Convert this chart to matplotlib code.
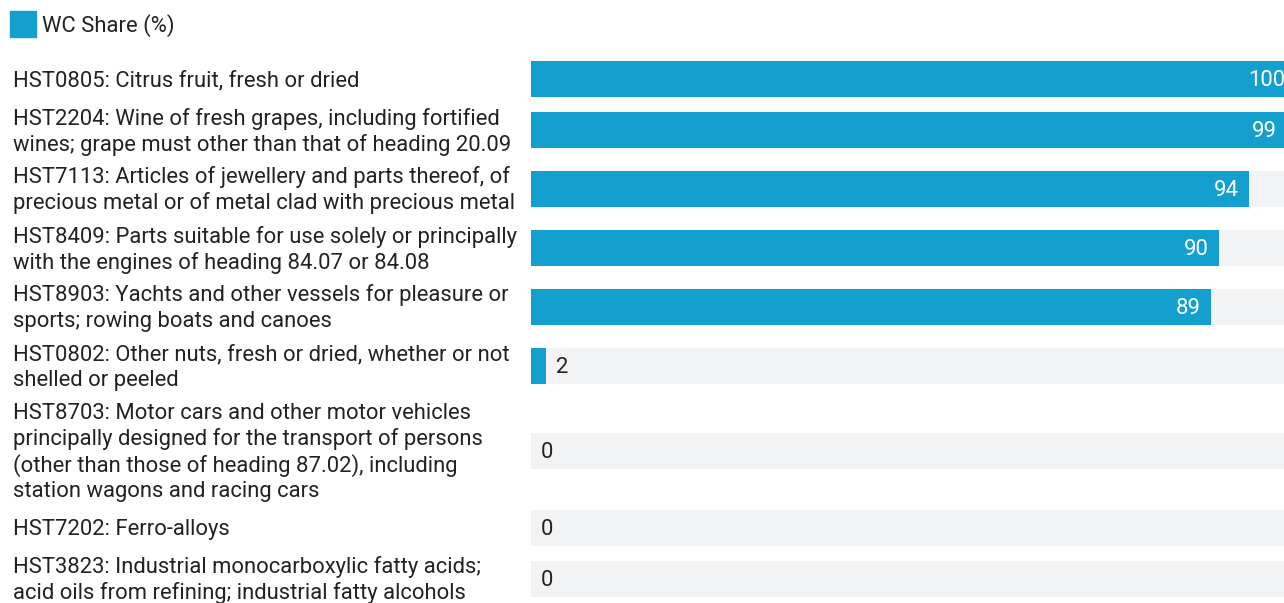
import numpy as np
import matplotlib
matplotlib.use('Agg')
import matplotlib.pyplot as plt

plt.rcParams['font.family'] = ['Roboto', 'DejaVu Sans']

labels = [
    "HST0805: Citrus fruit, fresh or dried",
    "HST2204: Wine of fresh grapes, including fortified\nwines; grape must other than that of heading 20.09",
    "HST7113: Articles of jewellery and parts thereof, of\nprecious metal or of metal clad with precious metal",
    "HST8409: Parts suitable for use solely or principally\nwith the engines of heading 84.07 or 84.08",
    "HST8903: Yachts and other vessels for pleasure or\nsports; rowing boats and canoes",
    "HST0802: Other nuts, fresh or dried, whether or not\nshelled or peeled",
    "HST8703: Motor cars and other motor vehicles\nprincipally designed for the transport of persons\n(other than those of heading 87.02), including\nstation wagons and racing cars",
    "HST7202: Ferro-alloys",
    "HST3823: Industrial monocarboxylic fatty acids;\nacid oils from refining; industrial fatty alcohols",
]
wc_share = [100, 99, 94, 90, 89, 2, 0, 0, 0]

BAR = '#14a0cf'
TRACK = '#f2f3f5'
INK = '#222222'
FS = 15.8

W, H = 1284, 603
fig = plt.figure(figsize=(W / 100, H / 100), dpi=100)

# row layout in pixels: each row grows with the number of label lines
line_h = 26
n_lines = np.array([len(s.split('\n')) for s in labels])
row_h = np.maximum(43, n_lines * line_h + 7)
tops = 57.5 + np.concatenate([[0], np.cumsum(row_h)[:-1]])
centers = tops + row_h / 2
text_dy = 1.5

# label / legend layer in figure pixels
lab = fig.add_axes([0, 0, 1, 1])
lab.set_xlim(0, W)
lab.set_ylim(H, 0)
lab.axis('off')

lab.add_patch(plt.Rectangle((10, 11), 26, 26, color=BAR))
lab.text(42, 24 + text_dy, 'WC Share (%)', fontsize=FS, color=INK, va='center', ha='left')

for c, s in zip(centers, labels):
    lines = s.split('\n')
    for i, ln in enumerate(lines):
        y = c + (i - (len(lines) - 1) / 2) * line_h + text_dy
        lab.text(13, y, ln, fontsize=FS, color=INK, va='center', ha='left')

# bars
x0 = 531
ax = fig.add_axes([x0 / W, 0, (W - x0) / W, 1])
ax.set_ylim(H, 0)
px_per_unit = 7.64
ax.set_xlim(0, (W - x0) / px_per_unit)
ax.axis('off')

ax.barh(centers, [100] * len(centers), height=36, color=TRACK, left=0)
ax.barh(centers, wc_share, height=36, color=BAR)

pad = 10 / px_per_unit
for c, v in zip(centers, wc_share):
    if v >= 20:
        ax.text(v - pad, c + text_dy, f'{v}', color='white', fontsize=FS, va='center', ha='right')
    else:
        ax.text(v + pad, c + text_dy, f'{v}', color=INK, fontsize=FS, va='center', ha='left')

fig.savefig('out.png', dpi=100)
